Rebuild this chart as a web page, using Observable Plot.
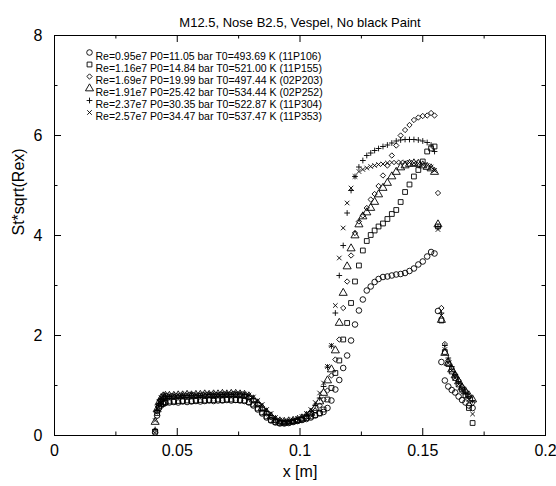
<!DOCTYPE html>
<html><head><meta charset="utf-8">
<script src="https://cdn.jsdelivr.net/npm/d3@7"></script>
<script src="https://cdn.jsdelivr.net/npm/@observablehq/plot@0.6"></script>
<style>body{margin:0;background:#fff} #chart svg{display:block}</style>
</head><body><div id="chart"></div>
<script>
const title = "M12.5, Nose B2.5, Vespel, No black Paint";
const xLabel = "x [m]";
const yLabel = "St*sqrt(Rex)";
const xTicks = [0, 0.05, 0.1, 0.15, 0.2];
const xTickLabels = ["0", "0.05", "0.1", "0.15", "0.2"];
const xMinorTicks = [0.025, 0.075, 0.125, 0.175];
const yTicks = [0, 2, 4, 6, 8];
const yTickLabels = ["0", "2", "4", "6", "8"];
const yMinorTicks = [1, 3, 5, 7];

const seriesNames = [
  "Re=0.95e7 P0=11.05 bar T0=493.69 K (11P106)",
  "Re=1.16e7 P0=14.84 bar T0=521.00 K (11P155)",
  "Re=1.69e7 P0=19.99 bar T0=497.44 K (02P203)",
  "Re=1.91e7 P0=25.42 bar T0=534.44 K (02P252)",
  "Re=2.37e7 P0=30.35 bar T0=522.87 K (11P304)",
  "Re=2.57e7 P0=34.47 bar T0=537.47 K (11P353)"
];
const seriesSymbols = ["circle", "square", "diamond2", "triangle", "plus", "times"];

// gauge positions x [m]
const xs = [
  0.0410, 0.0418, 0.0426, 0.0434, 0.0443, 0.0452,
  0.0468, 0.0486, 0.0504, 0.0522, 0.0540, 0.0558, 0.0576, 0.0594, 0.0612, 0.0630,
  0.0648, 0.0666, 0.0684, 0.0702, 0.0720, 0.0738, 0.0756, 0.0774,
  0.0792, 0.0810, 0.0828, 0.0846, 0.0864, 0.0882, 0.0900, 0.0918, 0.0936, 0.0954,
  0.0972, 0.0990, 0.1008, 0.1026, 0.1044, 0.1062, 0.1080,
  0.1096, 0.1112, 0.1128, 0.1144, 0.1160, 0.1176, 0.1192, 0.1208, 0.1224, 0.1240,
  0.1256, 0.1272, 0.1288, 0.1304, 0.1320,
  0.1338, 0.1356, 0.1374, 0.1392, 0.1410, 0.1428, 0.1446, 0.1464, 0.1482, 0.1500,
  0.1518, 0.1534, 0.1548,
  0.1562, 0.1576, 0.1590, 0.1604, 0.1618, 0.1632, 0.1646, 0.1660, 0.1674, 0.1688, 0.1703
];

const yCircle = [
  0.06, 0.40, 0.55, 0.60, 0.63, 0.65,
  0.66, 0.67, 0.66, 0.68, 0.67, 0.68, 0.69, 0.68, 0.69, 0.70, 0.69, 0.70, 0.70, 0.71, 0.70, 0.71, 0.70, 0.69,
  0.66, 0.60, 0.52, 0.44, 0.36, 0.30, 0.26, 0.24, 0.24, 0.25, 0.27, 0.29, 0.31, 0.33, 0.36, 0.40, 0.45,
  0.47, 0.55, 0.70, 0.92, 1.11, 1.35, 1.60, 1.90, 2.22, 2.50, 2.72, 2.90, 2.98, 3.07, 3.13,
  3.17, 3.18, 3.20, 3.22, 3.23, 3.25, 3.29, 3.34, 3.42, 3.48, 3.58, 3.67, 3.64,
  2.49, 1.47, 1.10, 0.98, 0.91, 0.86, 0.78, 0.71, 0.66, 0.60, 0.55
];
const ySquare = [
  0.08, 0.45, 0.58, 0.63, 0.66, 0.67,
  0.68, 0.68, 0.69, 0.69, 0.70, 0.69, 0.70, 0.71, 0.70, 0.71, 0.71, 0.72, 0.71, 0.72, 0.72, 0.71, 0.71, 0.70,
  0.67, 0.62, 0.54, 0.46, 0.38, 0.31, 0.27, 0.25, 0.25, 0.26, 0.28, 0.30, 0.32, 0.35, 0.38, 0.41, 0.44,
  0.52, 0.72, 0.95, 1.25, 1.50, 1.92, 2.25, 2.65, 3.08, 3.40, 3.70, 3.89, 4.01, 4.10, 4.18,
  4.24, 4.33, 4.43, 4.51, 4.67, 4.87, 5.02, 5.18, 5.31, 5.48, 5.68, 5.74, 5.78,
  4.18, 2.30, 1.67, 1.43, 1.28, 1.15, 1.02, 0.92, 0.80, 0.55, 0.25
];
const yDiamond = [
  0.10, 0.48, 0.62, 0.70, 0.74, 0.76,
  0.77, 0.78, 0.78, 0.79, 0.79, 0.80, 0.79, 0.80, 0.80, 0.81, 0.80, 0.81, 0.81, 0.82, 0.81, 0.82, 0.81, 0.80,
  0.76, 0.70, 0.62, 0.53, 0.44, 0.36, 0.30, 0.27, 0.26, 0.27, 0.28, 0.30, 0.33, 0.37, 0.42, 0.50, 0.60,
  0.72, 0.90, 1.20, 1.52, 1.92, 2.55, 3.08, 3.60, 4.05, 4.28, 4.40, 4.55, 4.72, 4.83, 4.99,
  5.20, 5.40, 5.60, 5.80, 6.00, 6.11, 6.21, 6.31, 6.36, 6.39, 6.40, 6.45, 6.40,
  4.85, 2.55, 1.83, 1.50, 1.35, 1.22, 1.10, 0.98, 0.88, 0.78, 0.65
];
const yTriangle = [
  0.27, 0.52, 0.66, 0.74, 0.78, 0.79,
  0.79, 0.79, 0.80, 0.80, 0.81, 0.80, 0.81, 0.81, 0.82, 0.81, 0.82, 0.82, 0.83, 0.82, 0.83, 0.83, 0.82, 0.81,
  0.78, 0.72, 0.64, 0.55, 0.46, 0.38, 0.31, 0.28, 0.27, 0.28, 0.29, 0.31, 0.34, 0.39, 0.45, 0.55, 0.68,
  0.85, 1.10, 1.32, 1.70, 2.25, 2.85, 3.38, 3.74, 4.00, 4.22, 4.38, 4.46, 4.55, 4.67, 4.82,
  4.95, 5.05, 5.18, 5.27, 5.36, 5.40, 5.43, 5.44, 5.43, 5.40, 5.37, 5.34, 5.27,
  4.22, 2.31, 1.65, 1.45, 1.32, 1.20, 1.08, 0.96, 0.88, 0.80, 0.72
];
const yPlus = [
  0.12, 0.50, 0.64, 0.72, 0.77, 0.79,
  0.78, 0.79, 0.79, 0.80, 0.80, 0.81, 0.81, 0.80, 0.81, 0.82, 0.82, 0.81, 0.82, 0.83, 0.82, 0.83, 0.83, 0.82,
  0.79, 0.74, 0.66, 0.57, 0.48, 0.40, 0.33, 0.29, 0.28, 0.28, 0.30, 0.32, 0.36, 0.41, 0.48, 0.60, 0.75,
  0.98, 1.37, 1.79, 2.45, 3.20, 3.80, 4.45, 4.90, 5.18, 5.37, 5.50, 5.60, 5.65, 5.70, 5.74,
  5.78, 5.81, 5.85, 5.89, 5.91, 5.92, 5.92, 5.92, 5.91, 5.89, 5.86, 5.81, 5.68,
  4.18, 2.45, 1.80, 1.55, 1.38, 1.22, 1.08, 0.95, 0.85, 0.78, 0.70
];
const yTimes = [
  0.30, 0.55, 0.68, 0.76, 0.80, 0.81,
  0.80, 0.80, 0.81, 0.81, 0.82, 0.82, 0.81, 0.82, 0.83, 0.83, 0.82, 0.83, 0.84, 0.83, 0.84, 0.84, 0.84, 0.83,
  0.81, 0.77, 0.70, 0.62, 0.52, 0.44, 0.36, 0.31, 0.29, 0.29, 0.31, 0.34, 0.38, 0.44, 0.52, 0.66, 0.85,
  1.05, 1.38, 1.80, 2.60, 3.55, 4.15, 4.65, 4.95, 5.18, 5.28, 5.32, 5.35, 5.38, 5.40, 5.42,
  5.43, 5.45, 5.46, 5.46, 5.47, 5.46, 5.46, 5.45, 5.44, 5.42, 5.40, 5.37, 5.30,
  4.12, 2.40, 1.72, 1.45, 1.30, 1.15, 1.02, 0.90, 0.85, 0.72, 0.43
];

const seriesValues = [yCircle, ySquare, yDiamond, yTriangle, yPlus, yTimes];
const seriesR = [2.8, 2.7, 2.4, 3.0, 2.0, 2.2];

const W = 556, H = 486;
const mL = 54, mR = 11, mT = 35, mB = 51;
const fw = W - mL - mR, fh = H - mT - mB;
const major = 7, minor = 3.5;
const font = "'Liberation Sans', Arial, Helvetica, sans-serif";

const marks = [];
seriesValues.forEach((ys, k) => {
  const data = xs.map((x, i) => ({x, y: ys[i]}));
  marks.push(Plot.dot(data, {x: "x", y: "y", symbol: seriesSymbols[k], r: seriesR[k],
    stroke: "black", fill: "none", strokeWidth: 0.9}));
});

// inward ticks on all four sides
marks.push(
  Plot.tickX(xTicks, {x: d => d, insetTop: fh - major, stroke: "black"}),
  Plot.tickX(xTicks, {x: d => d, insetBottom: fh - major, stroke: "black"}),
  Plot.tickX(xMinorTicks, {x: d => d, insetTop: fh - minor, stroke: "black"}),
  Plot.tickX(xMinorTicks, {x: d => d, insetBottom: fh - minor, stroke: "black"}),
  Plot.tickY(yTicks, {y: d => d, insetRight: fw - major, stroke: "black"}),
  Plot.tickY(yTicks, {y: d => d, insetLeft: fw - major, stroke: "black"}),
  Plot.tickY(yMinorTicks, {y: d => d, insetRight: fw - minor, stroke: "black"}),
  Plot.tickY(yMinorTicks, {y: d => d, insetLeft: fw - minor, stroke: "black"}),
  Plot.frame({stroke: "black", strokeWidth: 1})
);

marks.push(
  Plot.axisX(xTicks, {tickSize: 0, tickPadding: 9, fontSize: 16, label: null,
    tickFormat: d => xTickLabels[xTicks.indexOf(d)]}),
  Plot.axisY(yTicks, {tickSize: 0, tickPadding: 12, fontSize: 16, label: null,
    tickFormat: d => yTickLabels[yTicks.indexOf(d)]}),
  Plot.text([title], {frameAnchor: "top", dy: -18, fontSize: 13, text: d => d}),
  Plot.text([xLabel], {frameAnchor: "bottom", dy: 41, fontSize: 16, text: d => d}),
  Plot.text([yLabel], {frameAnchor: "left", dx: -36, rotate: -90, fontSize: 16, text: d => d})
);

// legend inside the frame, top-left
seriesNames.forEach((name, k) => {
  marks.push(
    Plot.dot([name], {frameAnchor: "top-left", dx: 35, dy: 17 + 12 * k, symbol: seriesSymbols[k],
      r: seriesR[k], stroke: "black", fill: "none", strokeWidth: 0.9}),
    Plot.text([name], {frameAnchor: "top-left", dx: 41, dy: 17 + 12 * k, text: d => d,
      textAnchor: "start", fontSize: 10.5})
  );
});

const chart = Plot.plot({
  width: W, height: H,
  marginLeft: mL, marginRight: mR, marginTop: mT, marginBottom: mB,
  style: {fontFamily: font, background: "white", color: "black", fontSize: "16px"},
  x: {domain: [0, 0.2], label: null},
  y: {domain: [0, 8], label: null},
  marks
});
document.getElementById("chart").appendChild(chart);
</script>
</body></html>
